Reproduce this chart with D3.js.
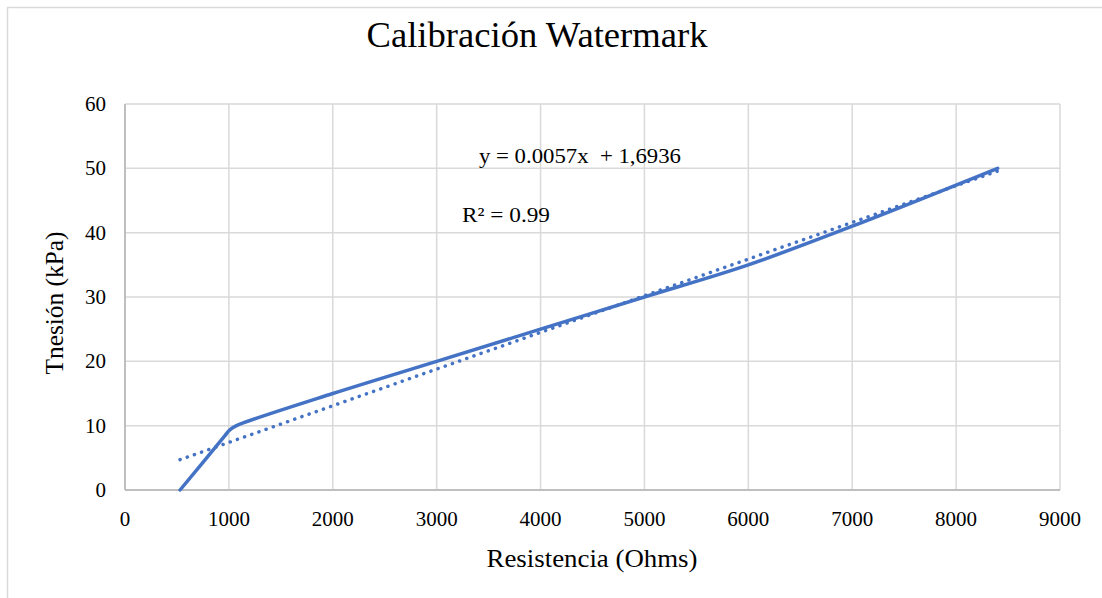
<!DOCTYPE html>
<html>
<head>
<meta charset="utf-8">
<script src="https://cdn.jsdelivr.net/npm/d3@7"></script>
<style>
  html, body { margin: 0; padding: 0; background: #fff; }
  svg { display: block; }
</style>
</head>
<body>
<svg id="chart" width="1102" height="598"></svg>
<script>
// ---- data ----
const resistance = [530, 960, 1000, 1040, 1100, 2000, 3000, 4000, 5000, 6000, 7000, 8400];
const tension    = [0,   8.4, 9.2,  9.7,  10.2, 15,   20,   25,   30,   35,   41,   50];
const trendCoef  = [0.0057, 1.6936];          // slope, intercept
const trendRange = [530, 8400];
const xTicks = [0, 1000, 2000, 3000, 4000, 5000, 6000, 7000, 8000, 9000];
const yTicks = [0, 10, 20, 30, 40, 50, 60];
const titleText = "Calibración Watermark";
const xTitle = "Resistencia (Ohms)";
const yTitle = "Tnesión (kPa)";
const eqText = "y = 0.0057x  + 1,6936";
const r2Text = "R² = 0.99";

// ---- layout ----
const FONT = "Liberation Serif";
const svg = d3.select("#chart");
const plot = { left: 125, right: 1060, top: 104, bottom: 490 };
const x = d3.scaleLinear().domain([0, 9000]).range([plot.left, plot.right]);
const y = d3.scaleLinear().domain([0, 60]).range([plot.bottom, plot.top]);
const blue = "#4472C4";

// chart frame
svg.append("rect")
  .attr("x", 7.5).attr("y", 7.5).attr("width", 1120).attr("height", 620)
  .attr("fill", "none").attr("stroke", "#d9d9d9").attr("stroke-width", 1.5);

// title
svg.append("text").attr("x", 537).attr("y", 47).attr("text-anchor", "middle")
  .attr("font-family", FONT).attr("font-size", 35)
  .attr("textLength", 341).attr("lengthAdjust", "spacingAndGlyphs")
  .text(titleText);

// gridlines
const g = svg.append("g");
g.selectAll(".vg").data(xTicks.slice(1)).join("line")
  .attr("x1", d => x(d)).attr("x2", d => x(d))
  .attr("y1", plot.top).attr("y2", plot.bottom)
  .attr("stroke", "#d9d9d9").attr("stroke-width", 1.5);
g.selectAll(".hg").data(yTicks.slice(1)).join("line")
  .attr("x1", plot.left).attr("x2", plot.right)
  .attr("y1", d => y(d)).attr("y2", d => y(d))
  .attr("stroke", "#d9d9d9").attr("stroke-width", 1.5);

// axis lines
svg.append("line").attr("x1", plot.left).attr("x2", plot.left)
  .attr("y1", plot.top).attr("y2", plot.bottom)
  .attr("stroke", "#bfbfbf").attr("stroke-width", 2);
svg.append("line").attr("x1", plot.left).attr("x2", plot.right)
  .attr("y1", plot.bottom).attr("y2", plot.bottom)
  .attr("stroke", "#bfbfbf").attr("stroke-width", 2);

// tick labels
svg.selectAll(".xl").data(xTicks).join("text")
  .attr("x", d => x(d)).attr("y", 526).attr("text-anchor", "middle")
  .attr("font-family", FONT).attr("font-size", 21).text(d => d);
svg.selectAll(".yl").data(yTicks).join("text")
  .attr("x", 106).attr("y", d => y(d) + 7).attr("text-anchor", "end")
  .attr("font-family", FONT).attr("font-size", 21).text(d => d);

// axis titles
svg.append("text").attr("x", 592).attr("y", 567).attr("text-anchor", "middle")
  .attr("font-family", FONT).attr("font-size", 25)
  .attr("textLength", 211).attr("lengthAdjust", "spacingAndGlyphs")
  .text(xTitle);
svg.append("text").attr("transform", "translate(63,303) rotate(-90)")
  .attr("text-anchor", "middle").attr("font-family", FONT).attr("font-size", 25)
  .attr("textLength", 143).attr("lengthAdjust", "spacingAndGlyphs")
  .text(yTitle);

// trendline (dotted)
const trendPts = trendRange.map(v => [v, trendCoef[0] * v + trendCoef[1]]);
svg.append("path")
  .attr("d", d3.line().x(d => x(d[0])).y(d => y(d[1]))(trendPts))
  .attr("fill", "none").attr("stroke", blue).attr("stroke-width", 3.5)
  .attr("stroke-linecap", "round").attr("stroke-dasharray", "0.1 7.5");

// main series
const pts = resistance.map((v, i) => [v, tension[i]]);
svg.append("path")
  .attr("d", d3.line().x(d => x(d[0])).y(d => y(d[1])).curve(d3.curveCatmullRom.alpha(0.5))(pts))
  .attr("fill", "none").attr("stroke", blue).attr("stroke-width", 3.5)
  .attr("stroke-linecap", "round").attr("stroke-linejoin", "round");

// annotations
svg.append("text").attr("x", 479).attr("y", 163)
  .attr("font-family", FONT).attr("font-size", 22)
  .attr("textLength", 202).attr("lengthAdjust", "spacingAndGlyphs")
  .attr("xml:space", "preserve").style("white-space", "pre").text(eqText);
svg.append("text").attr("x", 462).attr("y", 222)
  .attr("font-family", FONT).attr("font-size", 22)
  .attr("textLength", 88).attr("lengthAdjust", "spacingAndGlyphs")
  .text(r2Text);
</script>
</body>
</html>
